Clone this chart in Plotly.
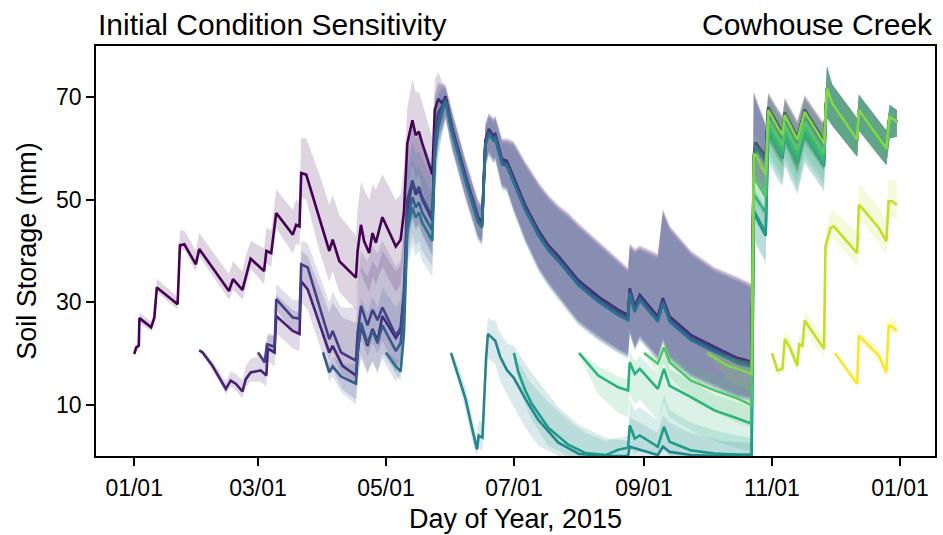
import plotly.graph_objects as go

# ---------------- data (day of year 2015, soil storage in mm) ----------------
COLORS = ["#440154", "#482173", "#433e85", "#38598c", "#2d708e", "#25858e",
          "#1e9b8a", "#2bb07f", "#51c56a", "#85d54a", "#c2df23", "#fde725"]
RUNS = ["Jan", "Feb", "Mar", "Apr", "May", "Jun", "Jul", "Aug", "Sep", "Oct", "Nov", "Dec"]

TICK_DAYS = [0, 59, 120, 181, 243, 304, 365]
TICK_TEXT = ["01/01", "03/01", "05/01", "07/01", "09/01", "11/01", "01/01"]
Y_TICKS = [10, 30, 50, 70]

# --- Jan run (before merging) ---
jan_days = [0, 1, 2.2, 2.5, 8.1, 9.6, 10.8, 20.7, 21.8, 23.9, 29.4, 31.0, 45.2, 47.1, 51.6, 53.2,
            55.5, 61.9, 63.0, 65.3, 67.7, 75.6, 77.2, 78.8, 79.6, 82.0, 88.3, 93.0, 94.6, 97.8,
            105.7, 106.5, 108.1, 109.6, 112.0, 113.6, 115.2, 118.3, 124.7, 127.0, 128.6, 130.2,
            132.6, 134.2, 135.7, 137.3, 142.1, 143.3, 144.9, 146.8]
jan_mid = [19.9, 21.2, 21.5, 26.9, 25.1, 27.0, 32.9, 29.6, 41.1, 41.3, 37.4, 40.4, 32.2, 34.5, 32.4, 35.1,
           38.5, 36.1, 40.0, 39.6, 47.4, 43.2, 45.1, 44.8, 55.2, 54.9, 46.1, 40.0, 42.2, 38.0,
           34.8, 40.0, 45.1, 41.9, 39.6, 43.5, 41.6, 46.6, 40.9, 42.2, 47.7, 61.0,
           65.5, 62.6, 63.3, 61.0, 54.9, 67.5, 69.7, 68.8]
jan_lo = [19.6, 20.7, 21.0, 26.0, 24.3, 26.2, 32.0, 28.6, 40.0, 40.2, 36.0, 39.0, 30.5, 32.5, 30.5, 33.0,
          36.5, 33.5, 37.5, 37.0, 44.5, 39.5, 41.5, 41.0, 50.5, 50.0, 40.0, 34.0, 36.0, 32.0,
          28.5, 32.0, 36.0, 34.0, 32.0, 35.0, 33.5, 37.0, 32.0, 33.5, 40.0, 52.0,
          57.0, 54.0, 55.0, 52.0, 46.0, 59.0, 63.0, 64.0]
jan_hi = [20.2, 21.7, 22.2, 28.0, 26.2, 28.2, 34.6, 31.0, 44.0, 44.0, 40.0, 43.5, 35.5, 38.0, 36.0, 39.0,
          42.0, 40.5, 44.5, 44.0, 52.0, 48.0, 50.0, 49.5, 62.0, 62.0, 55.0, 49.0, 51.0, 47.0,
          43.0, 48.0, 53.5, 52.0, 50.0, 53.0, 52.0, 55.0, 50.0, 51.0, 56.0, 68.0,
          73.5, 71.0, 71.0, 69.0, 62.0, 73.5, 75.0, 73.0]

# --- Feb run ---
feb_days = [31.0, 32.6, 37.3, 43.7, 46.0, 48.4, 51.6, 53.2, 55.5, 60.3, 63.0, 63.7, 66.9, 67.7, 75.6,
            78.8, 79.6, 82.7, 93.0, 94.6, 99.3, 105.7, 106.5, 108.1, 111.2, 113.6, 116.0, 118.3,
            124.7, 127.0, 128.6, 130.2, 132.6, 134.2, 135.7, 137.3, 142.1, 143.3, 144.9, 146.8]
feb_mid = [20.6, 20.2, 17.6, 13.1, 14.7, 14.1, 12.6, 15.0, 16.3, 16.7, 15.7, 21.0, 20.2, 27.3, 24.4,
           23.8, 34.1, 32.5, 20.2, 21.5, 17.6, 15.7, 20.2, 25.4, 21.5, 24.8, 22.5, 27.3,
           23.0, 24.5, 31.0, 48.0, 53.5, 51.0, 52.0, 50.0, 46.0, 62.0, 66.5, 68.0]
feb_lo = [20.3, 19.7, 16.8, 12.0, 13.5, 12.8, 11.2, 13.5, 14.5, 14.5, 13.5, 18.5, 17.5, 24.0, 21.0,
          20.5, 30.0, 28.5, 16.0, 17.0, 13.0, 11.0, 15.0, 19.0, 16.0, 18.5, 16.5, 20.0,
          16.5, 18.0, 24.0, 40.0, 46.0, 44.0, 45.0, 43.0, 39.0, 55.0, 61.0, 63.5]
feb_hi = [20.9, 20.7, 18.5, 14.5, 16.5, 16.0, 14.8, 17.5, 19.0, 19.5, 18.5, 24.0, 23.5, 31.5, 28.5,
          28.0, 40.0, 39.0, 28.0, 30.0, 27.0, 26.0, 31.0, 37.0, 35.0, 38.0, 36.5, 40.0,
          36.0, 37.0, 44.0, 58.0, 64.0, 62.0, 62.5, 61.0, 56.0, 70.0, 72.5, 72.5]

# --- Mar run ---
mar_days = [59.0, 62.2, 63.3, 66.9, 67.7, 75.6, 78.8, 79.6, 82.7, 93.0, 94.6, 98.6, 105.7, 106.5,
            108.1, 111.2, 113.6, 116.0, 118.3, 124.7, 127.0, 128.6, 130.2, 132.6, 134.2, 135.7,
            137.3, 142.1, 143.3, 144.9, 146.8]
mar_mid = [20.2, 18.3, 21.8, 21.3, 30.6, 27.0, 26.8, 37.4, 36.8, 22.8, 24.4, 20.2, 18.6, 24.0,
           29.3, 25.5, 28.5, 26.5, 29.0, 23.5, 25.0, 32.0, 50.0, 53.8, 51.5, 52.5,
           50.5, 46.5, 62.5, 67.0, 68.3]
mar_lo = [19.9, 17.5, 20.5, 19.8, 28.5, 24.5, 24.0, 34.0, 33.0, 18.5, 20.0, 16.0, 14.0, 18.5,
          23.0, 19.5, 22.0, 20.0, 22.5, 17.5, 19.0, 25.0, 42.0, 46.5, 44.5, 45.5,
          43.5, 39.5, 55.5, 61.5, 64.0]
mar_hi = [20.5, 19.3, 23.5, 23.5, 33.5, 30.5, 30.5, 42.0, 41.5, 30.0, 32.0, 29.0, 29.0, 34.0,
          40.0, 38.0, 41.0, 39.5, 42.0, 37.0, 38.0, 45.0, 60.0, 65.0, 63.0, 63.0,
          61.5, 57.0, 70.5, 73.0, 72.5]

# --- Apr run ---
apr_days = [90.0, 93.0, 94.6, 98.6, 105.7, 106.5, 108.1, 111.2, 113.6, 116.0, 118.3, 124.7, 127.0,
            128.6, 130.2, 132.6, 134.2, 135.7, 137.3, 142.1, 143.3, 144.9, 146.8]
apr_mid = [20.2, 16.3, 17.5, 15.5, 14.1, 20.0, 26.0, 22.0, 24.5, 22.0, 25.5, 20.5, 22.0,
           29.0, 46.0, 50.5, 48.5, 49.5, 47.5, 44.0, 59.0, 65.0, 67.5]
apr_lo = [19.9, 14.5, 15.5, 12.5, 10.0, 15.0, 20.0, 16.5, 18.5, 16.0, 19.0, 14.5, 16.0,
          22.0, 38.0, 43.0, 41.0, 42.0, 40.0, 37.0, 52.0, 59.0, 63.0]
apr_hi = [20.5, 18.0, 19.5, 18.0, 18.0, 24.0, 31.0, 28.0, 31.0, 29.0, 33.0, 29.0, 30.5,
          38.0, 56.0, 61.0, 59.0, 59.5, 58.0, 54.0, 67.0, 71.0, 72.0]

# --- May run ---
may_days = [120.0, 124.7, 127.0, 128.6, 130.2, 132.6, 134.2, 135.7, 137.3, 142.1, 143.3, 144.9, 146.8]
may_mid = [20.2, 17.5, 16.5, 24.0, 44.0, 48.5, 46.5, 47.5, 45.5, 42.0, 58.0, 64.0, 67.0]
may_lo = [19.9, 16.0, 14.5, 20.0, 37.0, 41.0, 39.0, 40.0, 38.0, 35.0, 51.0, 58.0, 62.5]
may_hi = [20.5, 19.0, 18.5, 28.0, 52.0, 58.0, 56.0, 56.5, 55.0, 51.0, 66.0, 70.0, 71.5]

# --- merged Jan-May trajectory (mid-year) ---
conv_days = [148.4, 151.5, 157.9, 163.9, 165.8, 167.4, 169.0, 171.3, 172.1, 175.3, 177.6, 180.8,
             186.4, 192.7, 197.4, 202.2, 206.9, 211.7, 221.2, 230.7, 235.4, 236.2, 238.6, 241.0,
             249.6, 252.0, 255.2, 265.4, 276.6, 287.6, 294.3, 295.3, 296.3, 301.0]
conv_mid = [69.7, 63.6, 54.2, 46.1, 45.1, 61.0, 63.3, 62.0, 62.3, 57.4, 57.1, 53.9,
            48.4, 43.5, 40.6, 38.5, 36.2, 33.8, 30.6, 28.0, 27.0, 32.2, 28.6, 30.9,
            26.7, 30.3, 26.7, 23.1, 20.8, 18.6, 17.9, 58.0, 60.7, 57.8]
conv_lo = [66.0, 60.0, 50.5, 42.5, 41.5, 56.5, 59.0, 57.5, 58.0, 52.5, 52.0, 48.0,
           42.0, 36.5, 33.5, 31.0, 28.5, 26.0, 23.0, 20.5, 19.5, 24.0, 21.0, 23.0,
           19.0, 22.5, 19.0, 15.5, 13.5, 11.5, 11.0, 52.0, 54.0, 51.0]
conv_hi = [72.0, 67.0, 57.5, 49.5, 48.5, 64.5, 66.5, 65.5, 66.0, 61.5, 61.5, 61.0,
           57.0, 53.0, 50.5, 48.5, 47.0, 45.0, 41.5, 38.0, 36.3, 41.0, 40.0, 40.6,
           39.0, 47.7, 44.5, 39.6, 36.4, 34.5, 33.2, 70.8, 69.5, 64.5]
bundle_offset = [0.5, 0.25, 0.0, -0.25, -0.5]   # spread of Jan..May inside the merged bundle

# --- late-year trajectory shared by Jan..Oct runs ---
late_days = [302.2, 306.6, 309.0, 310.1, 316.1, 319.6, 328.8, 330.2, 332.7, 344.6, 345.4,
             358.5, 360.1, 363.5]
late_mid = [67.5, 64.2, 62.6, 66.5, 61.7, 67.1, 61.0, 71.7, 68.8, 61.7, 67.5, 60.0, 66.2, 65.2]
late_lo = [62.0, 58.5, 57.0, 61.0, 55.5, 61.5, 56.0, 66.0, 64.5, 58.4, 63.5, 56.8, 62.0, 62.3]
late_hi = [70.5, 67.5, 66.0, 69.5, 65.0, 70.0, 64.5, 76.0, 72.5, 65.9, 70.5, 63.5, 68.5, 67.5]
late_merge_day = 330.0
late_offset = [0.5, 0.25, 0.0, -0.25, -0.5, -4.5, -4.0, -3.0, -2.0, 0.0]  # Jan..Oct, before merge

# --- Jun run ---
jun_days = [151.0, 153.5, 157.9, 161.0, 163.4, 164.2, 166.0, 167.7, 168.6, 170.5, 172.1, 174.5,
            177.6, 181.0, 186.4, 192.7, 202.2, 212.0, 225.0, 235.4, 236.2, 241.0, 249.6, 252.0,
            255.2, 265.4, 280.0, 294.3, 295.3, 301.0]
jun_mid = [20.1, 17.0, 11.2, 5.5, 1.3, 4.0, 3.6, 18.9, 23.8, 23.1, 22.5, 19.3,
           16.8, 15.2, 11.2, 7.0, 2.6, 0.4, 0.0, 0.0, 1.8, 1.2, 0.2, 1.8,
           0.8, 0.2, 0.0, 0.0, 47.5, 43.0]
jun_lo = [19.6, 16.0, 9.0, 3.0, 0.0, 1.5, 1.0, 14.0, 19.0, 18.5, 18.0, 14.5,
          12.0, 9.5, 5.5, 2.0, 0.0, 0.0, 0.0, 0.0, 0.0, 0.0, 0.0, 0.0,
          0.0, 0.0, 0.0, 0.0, 42.0, 37.5]
jun_hi = [20.6, 18.5, 13.5, 8.0, 3.5, 7.0, 6.5, 23.0, 27.0, 26.5, 26.5, 24.0,
          22.0, 21.5, 18.0, 14.5, 9.5, 6.0, 3.5, 3.0, 7.5, 6.5, 4.5, 8.0,
          6.5, 4.5, 3.0, 2.5, 52.0, 48.0]

# --- Jul run ---
jul_days = [181.0, 183.0, 186.4, 189.5, 197.4, 206.9, 215.0, 225.0, 230.7, 235.4, 236.2, 238.6,
            241.0, 249.6, 252.5, 255.2, 265.4, 276.6, 287.6, 294.3, 295.3, 301.0]
jul_mid = [20.1, 16.5, 12.8, 10.2, 5.5, 2.2, 0.6, 0.2, 1.2, 1.6, 6.0, 3.4,
           4.0, 1.8, 5.7, 2.8, 1.1, 0.5, 0.3, 0.3, 48.0, 43.5]
jul_lo = [19.6, 15.0, 10.0, 7.0, 2.0, 0.0, 0.0, 0.0, 0.0, 0.0, 1.5, 0.5,
          1.0, 0.0, 1.5, 0.0, 0.0, 0.0, 0.0, 0.0, 42.5, 38.0]
jul_hi = [20.6, 18.5, 16.0, 14.0, 10.5, 7.0, 4.5, 3.0, 3.5, 4.0, 11.0, 9.0,
          9.5, 7.0, 12.0, 9.0, 6.5, 5.0, 4.0, 3.5, 52.5, 48.5]

# --- Aug run ---
aug_days = [212.0, 221.2, 230.7, 235.4, 236.2, 238.6, 241.0, 249.6, 252.5, 255.2, 265.4, 276.6,
            287.6, 294.3, 295.3, 301.0]
aug_mid = [20.1, 15.7, 13.4, 12.8, 18.3, 16.0, 17.0, 13.1, 17.0, 13.7, 11.5, 8.9, 7.3, 6.3, 51.0, 47.5]
aug_lo = [19.7, 12.0, 8.5, 7.5, 12.0, 10.0, 11.0, 7.0, 10.5, 7.5, 5.0, 3.0, 1.5, 1.0, 46.0, 42.5]
aug_hi = [20.5, 17.5, 15.5, 15.0, 20.5, 18.5, 19.5, 16.0, 20.0, 17.0, 14.5, 12.0, 10.5, 9.5, 55.0, 51.5]

# --- Sep run ---
sep_days = [243.0, 249.6, 252.5, 255.2, 265.4, 276.6, 287.6, 294.3, 295.3, 301.0]
sep_mid = [20.1, 18.0, 21.2, 18.3, 14.7, 12.8, 11.2, 9.9, 54.5, 50.5]
sep_lo = [19.7, 16.0, 18.5, 15.5, 11.0, 8.5, 6.5, 5.5, 50.0, 46.0]
sep_hi = [20.5, 19.5, 23.0, 20.5, 17.5, 16.0, 14.5, 13.5, 58.0, 54.0]

# --- Oct run ---
oct_days = [273.0, 282.9, 287.6, 294.3, 295.3, 296.5, 301.0]
oct_mid = [20.1, 17.6, 17.0, 16.0, 59.0, 58.5, 54.9]
oct_lo = [19.7, 15.0, 14.0, 12.5, 55.0, 54.0, 51.0]
oct_hi = [20.5, 19.5, 19.0, 18.5, 63.0, 62.5, 59.0]

# --- Nov run ---
nov_days = [304.0, 305.0, 306.6, 309.0, 310.1, 312.5, 316.1, 316.9, 318.5, 319.6, 328.8, 329.5,
            331.9, 333.5, 344.6, 345.4, 346.9, 354.9, 358.5, 359.6, 361.2, 363.5]
nov_mid = [20.1, 18.9, 16.7, 17.0, 22.8, 21.2, 17.6, 21.8, 21.5, 26.4, 20.9, 40.9,
           44.5, 44.8, 39.6, 49.0, 48.4, 44.5, 41.9, 49.7, 49.7, 49.0]
nov_lo = [19.7, 18.2, 15.8, 16.0, 21.5, 20.0, 16.3, 20.3, 20.0, 24.5, 19.0, 38.5,
          42.0, 42.3, 37.0, 46.0, 45.5, 41.5, 39.0, 46.5, 46.8, 46.2]
nov_hi = [20.5, 19.8, 17.8, 18.2, 24.5, 23.0, 19.5, 23.8, 23.5, 28.5, 23.0, 43.5,
          47.5, 48.0, 43.5, 53.0, 52.5, 48.5, 46.0, 54.0, 54.0, 53.5]

# --- Dec run ---
dec_days = [334.0, 344.6, 345.4, 354.9, 358.5, 359.6, 361.2, 363.5]
dec_mid = [20.1, 14.1, 23.5, 19.6, 16.3, 25.4, 25.3, 24.4]
dec_lo = [19.8, 13.3, 22.5, 18.5, 15.3, 24.0, 23.8, 23.0]
dec_hi = [20.4, 15.0, 24.8, 21.0, 17.8, 27.3, 27.3, 26.5]

# ---------------- assemble runs ----------------
early = [(jan_days, jan_mid, jan_lo, jan_hi), (feb_days, feb_mid, feb_lo, feb_hi),
         (mar_days, mar_mid, mar_lo, mar_hi), (apr_days, apr_mid, apr_lo, apr_hi),
         (may_days, may_mid, may_lo, may_hi)]
mid_runs = [(jun_days, jun_mid, jun_lo, jun_hi), (jul_days, jul_mid, jul_lo, jul_hi),
            (aug_days, aug_mid, aug_lo, aug_hi), (sep_days, sep_mid, sep_lo, sep_hi),
            (oct_days, oct_mid, oct_lo, oct_hi)]


def late_part(k):
    off = [late_offset[k] if d < late_merge_day else 0.0 for d in late_days]
    return (list(late_days),
            [v + o for v, o in zip(late_mid, off)],
            [v + o for v, o in zip(late_lo, off)],
            [v + o for v, o in zip(late_hi, off)])


runs = []
for k, (d, m, lo, hi) in enumerate(early):
    b = bundle_offset[k]
    ld, lm, llo, lhi = late_part(k)
    runs.append((list(d) + conv_days + ld,
                 list(m) + [v + b for v in conv_mid] + lm,
                 list(lo) + [v + b for v in conv_lo] + llo,
                 list(hi) + [v + b for v in conv_hi] + lhi))
for j, (d, m, lo, hi) in enumerate(mid_runs):
    ld, lm, llo, lhi = late_part(5 + j)
    runs.append((list(d) + ld, list(m) + lm, list(lo) + llo, list(hi) + lhi))
runs.append((nov_days, nov_mid, nov_lo, nov_hi))
runs.append((dec_days, dec_mid, dec_lo, dec_hi))


def rgba(hexc, a):
    h = hexc.lstrip("#")
    return "rgba(%d,%d,%d,%.3f)" % (int(h[0:2], 16), int(h[2:4], 16), int(h[4:6], 16), a)


fig = go.Figure()
for k, (d, m, lo, hi) in enumerate(runs):
    c = COLORS[k]
    fig.add_trace(go.Scatter(x=list(d) + list(d)[::-1], y=list(hi) + list(lo)[::-1],
                             fill="toself", fillcolor=rgba(c, 0.17), line=dict(width=0),
                             mode="lines", hoverinfo="skip", showlegend=False))
    fig.add_trace(go.Scatter(x=d, y=m, mode="lines", line=dict(color=c, width=2.6),
                             name=RUNS[k], showlegend=False))

FONT = "Liberation Sans, Arial, Helvetica, sans-serif"
axis_common = dict(showline=True, mirror=True, linecolor="black", linewidth=1.5,
                   ticks="outside", ticklen=8, tickwidth=1.5, tickcolor="black",
                   showgrid=False, zeroline=False,
                   tickfont=dict(family=FONT, size=23, color="black"))

fig.update_layout(
    width=943, height=535,
    margin=dict(l=96, r=6, t=46, b=78),
    paper_bgcolor="white", plot_bgcolor="white",
    font=dict(family=FONT, color="black"),
    xaxis=dict(range=[-18.2, 381.7], tickmode="array", tickvals=TICK_DAYS, ticktext=TICK_TEXT,
               ticklabelstandoff=3,
               title=dict(text="Day of Year, 2015", font=dict(family=FONT, size=27), standoff=9),
               **axis_common),
    yaxis=dict(range=[0, 80], tickmode="array", tickvals=Y_TICKS,
               title=dict(text="Soil Storage (mm)", font=dict(family=FONT, size=27), standoff=12),
               **axis_common),
    annotations=[
        dict(text="Initial Condition Sensitivity", xref="paper", yref="paper", x=0, y=1,
             xanchor="left", yanchor="middle", yshift=22, showarrow=False,
             font=dict(family=FONT, size=30, color="black")),
        dict(text="Cowhouse Creek", xref="paper", yref="paper", x=1, y=1,
             xanchor="right", yanchor="middle", yshift=22, showarrow=False,
             font=dict(family=FONT, size=30, color="black")),
    ],
)

fig.write_html("out.html", config={"displayModeBar": False},
               post_script="document.body.style.margin='0';document.body.style.overflow='hidden';")
